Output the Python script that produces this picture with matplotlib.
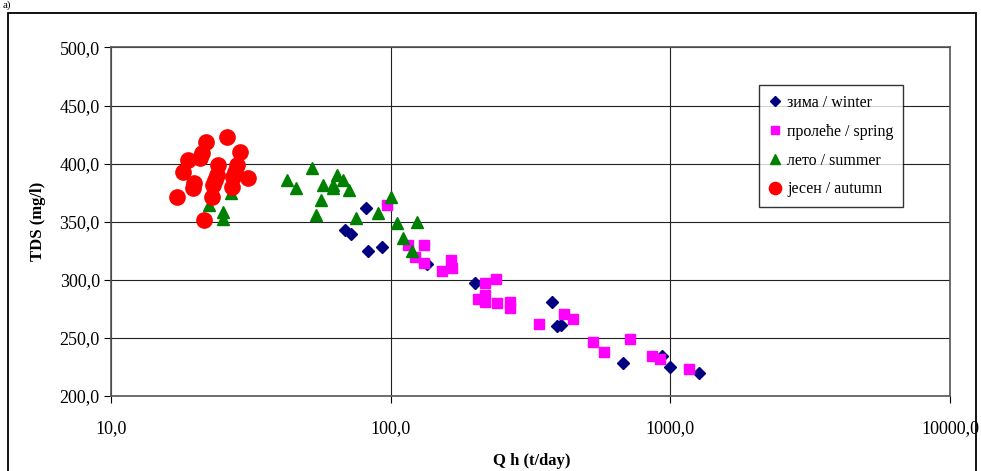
import matplotlib
matplotlib.use("Agg")
import matplotlib.pyplot as plt
from matplotlib.ticker import FixedLocator, FuncFormatter, NullLocator
from matplotlib.patches import Rectangle

plt.rcParams['font.family'] = ['Liberation Serif', 'DejaVu Serif']

# зима / winter
winter_q = [68.5, 71.9, 81.4, 82.8, 92.9, 134.5, 201, 379, 395, 405, 679, 936, 1000, 1270]
winter_tds = [342.7, 339.3, 361.7, 324.7, 328.1, 313.5, 297.2, 280.8, 260.2, 261.0, 228.4, 234.4, 225.0, 219.8]

# пролеће / spring
spring_q = [96.8, 115, 122, 132, 132, 153, 164, 166, 218, 218, 206, 218, 239, 241,
            268, 268, 338, 418, 447, 531, 581, 720, 863, 921, 1170]
spring_tds = [364.2, 329.8, 319.5, 329.8, 314.4, 307.5, 317.0, 310.0, 297.2, 286.8, 283.4, 280.8, 300.6, 280.0,
              280.8, 275.7, 261.9, 270.5, 266.2, 246.4, 237.8, 249.0, 234.4, 231.8, 223.2]

# лето / summer
summer_q = [22.4, 25.1, 25.1, 26.8, 42.5, 45.8, 52.2, 54.0, 56.2, 57.1, 62.1, 62.1, 64.1, 67.4,
            70.8, 75.0, 90.0, 100, 105, 111, 119, 124]
summer_tds = [364.2, 358.2, 352.2, 374.5, 385.7, 378.8, 396.0, 355.6, 368.5, 381.4, 378.8, 381.4, 390.0, 385.7,
              377.1, 353.0, 357.4, 371.1, 348.8, 335.9, 324.7, 349.6]

# јесен / autumn
autumn_q = [17.2, 18.1, 18.8, 19.6, 19.8, 20.8, 21.1, 21.8, 21.5, 23.0, 23.1, 23.5, 23.9, 24.1,
            26.0, 27.0, 27.3, 27.8, 28.2, 28.9, 30.8]
autumn_tds = [371.1, 392.6, 402.9, 378.8, 383.1, 404.6, 408.9, 418.4, 351.3, 371.1, 381.4, 386.0, 390.0, 398.6,
              422.7, 379.7, 388.3, 393.0, 398.6, 409.8, 387.4]

x_ticks = [10, 100, 1000, 10000]
y_ticks = [200, 250, 300, 350, 400, 450, 500]

fig = plt.figure(figsize=(9.81, 4.71), dpi=100)
ax = fig.add_axes([0.1131, 0.1592, 0.8553, 0.7400])

ax.plot(winter_q, winter_tds, linestyle='none', marker='D', ms=6.5, color='#000080',
        label='зима / winter')
ax.plot(spring_q, spring_tds, linestyle='none', marker='s', ms=7.5, color='#FF00FF',
        label='пролеће / spring')
ax.plot(summer_q, summer_tds, linestyle='none', marker='^', ms=8.5, color='#008000',
        label='лето / summer')
ax.plot(autumn_q, autumn_tds, linestyle='none', marker='o', ms=11, color='#FF0000',
        label='јесен / autumn')

ax.set_xscale('log')
ax.set_xlim(10, 10000)
ax.set_ylim(200, 500)
ax.xaxis.set_major_locator(FixedLocator(x_ticks))
ax.xaxis.set_minor_locator(NullLocator())
ax.yaxis.set_major_locator(FixedLocator(y_ticks))
fmt = FuncFormatter(lambda v, p: ('%.1f' % v).replace('.', ','))
ax.xaxis.set_major_formatter(fmt)
ax.yaxis.set_major_formatter(fmt)
ax.tick_params(axis='both', labelsize=13, direction='out', length=5, width=0.8, colors='black')
ax.tick_params(axis='x', pad=12)
ax.tick_params(axis='y', pad=3)
ax.grid(True, color='#222222', linewidth=0.8)
ax.set_axisbelow(True)
for s in ax.spines.values():
    s.set_color('#555555')
    s.set_linewidth(1.2)

ax.set_ylabel('TDS (mg/l)', fontsize=12, fontweight='bold', labelpad=10)
fig.text(0.542, 0.022, 'Q h (t/day)', fontsize=12, fontweight='bold', ha='center', va='center')

leg = ax.legend(loc='upper left', bbox_to_anchor=(0.772, 0.891), borderaxespad=0,
                fontsize=11.5, frameon=True, fancybox=False, handlelength=0.8,
                handletextpad=0.4, labelspacing=0.8, borderpad=0.6, markerscale=0.8)
leg.get_frame().set_edgecolor('black')
leg.get_frame().set_linewidth(1.0)

# outer chart frame, cut off at the bottom
fig.patches.append(Rectangle((8 / 981, -0.05), 968 / 981, 1.05 - 13 / 471, transform=fig.transFigure,
                             fill=False, edgecolor='black', linewidth=1.3))
fig.text(0.003, 0.999, 'a)', fontsize=8, va='top')

fig.savefig('out.png', dpi=100)
